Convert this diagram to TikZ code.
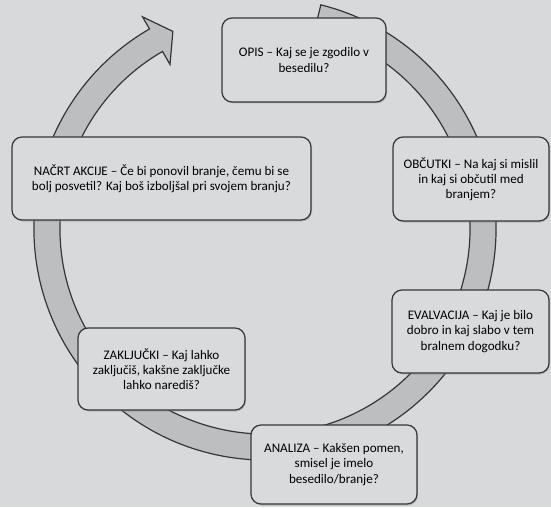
\documentclass[tikz,border=0pt]{standalone}
\usepackage{fontspec}
\setmainfont{Carlito}
\usetikzlibrary{shadows}
\definecolor{bg}{HTML}{D8D9DA}
\definecolor{boxfill}{HTML}{D9DADB}
\definecolor{bandfill}{HTML}{BCBEC0}
\definecolor{edge}{HTML}{363636}
\tikzset{
  stage/.style={draw=edge, line width=1.2pt, fill=boxfill, rounded corners=10pt,
    align=center, inner sep=2pt, font=\fontsize{13.1}{15.2}\selectfont, text=black,
    drop shadow={shadow xshift=1pt, shadow yshift=-1.5pt, opacity=0.35}},
  band/.style={draw=edge, line width=1.2pt, fill=bandfill, line join=miter}
}
\begin{document}
\begin{tikzpicture}[x=1pt,y=1pt]
\fill[bg] (0,0) rectangle (551,507);
\useasboundingbox (0,0) rectangle (551,507);
\coordinate (c) at (265,278);
\begin{scope}[shift={(c)}]
\draw[band] (76:231) arc[start angle=76, end angle=-240, radius=231]
  -- (120:245) -- (115:218) -- (120:190) -- (120:205)
  arc[start angle=-240, end angle=76, radius=205] -- cycle;
\end{scope}
\node[stage, minimum width=164pt, minimum height=84pt] (opis) at (304,447)
  {OPIS – Kaj se je zgodilo v\\besedilu?};
\node[stage, minimum width=156pt, minimum height=84pt] (obc) at (471,328)
  {OBČUTKI – Na kaj si mislil\\in kaj si občutil med\\branjem?};
\node[stage, minimum width=299pt, minimum height=83pt] (nacrt) at (161.5,328.5)
  {NAČRT AKCIJE – Če bi ponovil branje, čemu bi se\\bolj posvetil? Kaj boš izboljšal pri svojem branju?};
\node[stage, minimum width=157pt, minimum height=83pt] (eval) at (470.5,175.5)
  {EVALVACIJA – Kaj je bilo\\dobro in kaj slabo v tem\\bralnem dogodku?};
\node[stage, minimum width=167pt, minimum height=82pt] (zak) at (161.5,138)
  {ZAKLJUČKI – Kaj lahko\\zaključiš, kakšne zaključke\\lahko narediš?};
\node[stage, minimum width=166pt, minimum height=79pt] (anal) at (334,42.5)
  {ANALIZA – Kakšen pomen,\\smisel je imelo\\besedilo/branje?};
\end{tikzpicture}
\end{document}
